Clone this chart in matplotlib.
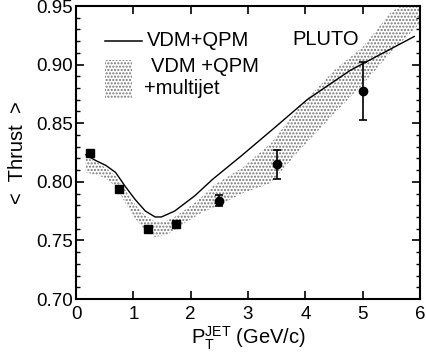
import matplotlib
matplotlib.use("Agg")
import matplotlib.pyplot as plt
from matplotlib.patches import Rectangle
from matplotlib.lines import Line2D
from matplotlib.ticker import MultipleLocator, FormatStrFormatter

plt.rcParams['font.family'] = ['Liberation Sans', 'DejaVu Sans']
plt.rcParams['mathtext.fontset'] = 'custom'
plt.rcParams['mathtext.rm'] = 'Liberation Sans'
plt.rcParams['hatch.linewidth'] = 1.0
FS = 13.5
FL = 14.5

# data points
pt_x_sq = [0.25, 0.75, 1.25, 1.75]
pt_y_sq = [0.825, 0.794, 0.760, 0.764]
pt_x_c = [2.5, 3.5, 5.0]
pt_y_c = [0.784, 0.815, 0.8775]
pt_err_c = [0.0045, 0.0125, 0.025]

# VDM+QPM curve
curve_x = [0.17, 0.35, 0.52, 0.69, 0.86, 1.03, 1.21, 1.38, 1.49, 1.72, 2.07, 2.38, 2.88, 3.46, 4.03, 4.21, 4.78, 5.36, 5.90]
curve_y = [0.823, 0.818, 0.814, 0.808, 0.796, 0.785, 0.775, 0.770, 0.770, 0.775, 0.788, 0.802, 0.822, 0.846, 0.870, 0.876, 0.895, 0.910, 0.924]

# VDM+QPM+multijet band
band_x = [0.17, 0.35, 0.52, 0.69, 0.86, 1.03, 1.21, 1.38, 1.55, 1.72, 1.90, 2.07, 2.24, 2.40, 2.90, 3.40, 3.90, 4.50, 5.00, 5.50, 6.00]
band_lo = [0.808, 0.806, 0.803, 0.796, 0.782, 0.769, 0.758, 0.753, 0.754, 0.759, 0.765, 0.770, 0.775, 0.778, 0.790, 0.799, 0.827, 0.858, 0.883, 0.911, 0.935]
band_hi = [0.821, 0.817, 0.812, 0.805, 0.793, 0.781, 0.771, 0.766, 0.766, 0.770, 0.776, 0.782, 0.789, 0.797, 0.812, 0.833, 0.864, 0.895, 0.915, 0.945, 0.960]

xticks = [0, 1, 2, 3, 4, 5, 6]
yticks = [0.70, 0.75, 0.80, 0.85, 0.90, 0.95]

fig = plt.figure(figsize=(4.26, 3.59), dpi=100)
ax = fig.add_axes([76/426, 60/359, 344/426, 293/359])

ax.fill_between(band_x, band_lo, band_hi, facecolor='none', edgecolor='0.45',
                linewidth=0, hatch='.....', zorder=1)
ax.plot(curve_x, curve_y, color='black', lw=1.0, zorder=3)
ax.errorbar(pt_x_sq, pt_y_sq, yerr=0.002, fmt='s', color='black', ms=5.5,
            capsize=2, elinewidth=1, zorder=4)
ax.errorbar(pt_x_c, pt_y_c, yerr=pt_err_c, fmt='o', color='black', ms=6,
            capsize=3, elinewidth=1.2, capthick=1.2, zorder=4)

ax.set_xlim(0, 6)
ax.set_ylim(0.70, 0.95)
ax.set_xticks(xticks)
ax.set_yticks(yticks)
ax.yaxis.set_major_formatter(FormatStrFormatter('%.2f'))
ax.yaxis.set_minor_locator(MultipleLocator(0.01))
ax.tick_params(which='both', direction='in', top=True, right=True, labelsize=FS)
ax.tick_params(which='major', length=6, width=1.2)
ax.tick_params(axis='y', which='major', pad=2)
ax.tick_params(axis='x', which='major', pad=5)
ax.tick_params(which='minor', length=3, width=1.0)
ax.tick_params(axis='x', which='minor', bottom=False, top=False)
for s in ax.spines.values():
    s.set_linewidth(1.5)

ax.set_ylabel('<  Thrust  >', fontsize=FL, labelpad=7)
ax.set_xlabel(r'$\mathregular{P_T^{JET}}$ (GeV/c)', fontsize=FL, labelpad=1)

# legend drawn in axes coordinates
ax.add_line(Line2D([0.083, 0.193], [0.881, 0.881], transform=ax.transAxes,
                   color='black', lw=1.1))
ax.text(0.207, 0.881, 'VDM+QPM', transform=ax.transAxes, fontsize=FL,
        va='center', ha='left')
ax.add_patch(Rectangle((0.083, 0.686), 0.081, 0.130, transform=ax.transAxes,
                       facecolor='none', edgecolor='0.45', linewidth=0,
                       hatch='.....'))
ax.text(0.218, 0.792, 'VDM +QPM', transform=ax.transAxes, fontsize=FL,
        va='center', ha='left')
ax.text(0.198, 0.720, '+multijet', transform=ax.transAxes, fontsize=FL,
        va='center', ha='left')
ax.text(0.629, 0.884, 'PLUTO', transform=ax.transAxes, fontsize=FL,
        va='center', ha='left')

fig.savefig('out.png', dpi=100)
